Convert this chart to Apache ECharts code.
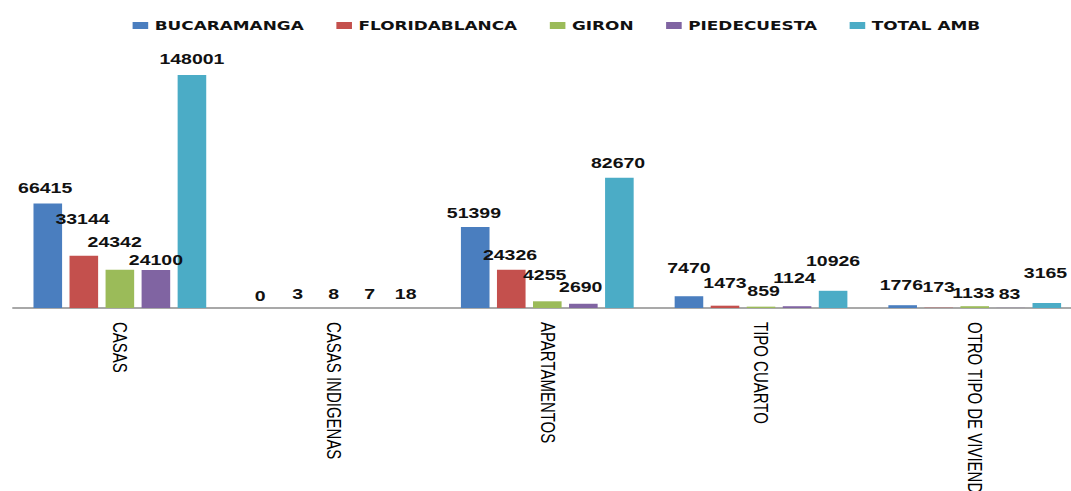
<!DOCTYPE html>
<html>
<head>
<meta charset="utf-8">
<script src="https://cdn.jsdelivr.net/npm/echarts@6/dist/echarts.min.js"></script>
<style>
  html, body { margin: 0; padding: 0; background: #ffffff; overflow: hidden; }
  #wrap { width: 1071px; height: 491px; overflow: hidden; }
  /* chart is laid out narrow and widened horizontally */
  #chart { width: 840px; height: 491px; transform: scaleX(1.3); transform-origin: 0 0; }
</style>
</head>
<body>
<div id="wrap"><div id="chart"></div></div>
<script>
// Tipos de vivienda por municipio del Área Metropolitana de Bucaramanga
const categories = ['CASAS', 'CASAS INDIGENAS', 'APARTAMENTOS', 'TIPO CUARTO', 'OTRO TIPO DE VIVIENDA'];
const seriesNames = ['BUCARAMANGA', 'FLORIDABLANCA', 'GIRON', 'PIEDECUESTA', 'TOTAL AMB'];

const bucaramanga   = [66415, 0, 51399, 7470, 1776];
const floridablanca = [33144, 3, 24326, 1473, 173];
const giron         = [24342, 8, 4255, 859, 1133];
const piedecuesta   = [24100, 7, 2690, 1124, 83];
const totalAmb      = [148001, 18, 82670, 10926, 3165];

const seriesValues = [bucaramanga, floridablanca, giron, piedecuesta, totalAmb];
const colors = ['#4a7ebf', '#c4504d', '#9bbb59', '#8064a2', '#4bacc6'];

// value-label nudges [dx, dy] so overlapping labels stay readable
const labelNudge = [
  [[-2, -3], [-1, 0], [-1, -2], [0, -16], [-1, -8]],
  [[-1, -24], [0, -2], [-1, -2], [0, -10], [0, -8]],
  [[-4, -15], [0, -2], [-2, -14], [2, -3], [-1, -1]],
  [[0, 2], [0, -2], [-2, -4], [-2, -16], [-1, -2]],
  [[0, -4], [0, -2], [-1, -2], [0, -17], [-1, -18]]
];

const chart = echarts.init(document.getElementById('chart'), null, { renderer: 'svg' });

const series = seriesNames.map((name, s) => ({
  name: name,
  type: 'bar',
  barWidth: 22,
  barGap: '26%',
  itemStyle: { color: colors[s] },
  label: {
    show: true,
    position: 'top',
    distance: 5,
    color: '#111',
    fontFamily: 'Liberation Sans, Arial, sans-serif',
    fontWeight: 'bold',
    fontSize: 15
  },
  data: seriesValues[s].map((v, i) => ({
    value: v,
    label: { offset: labelNudge[s][i] }
  }))
}));

chart.setOption({
  animation: false,
  backgroundColor: '#ffffff',
  color: colors,
  legend: {
    data: seriesNames,
    left: 97,
    top: 14,
    itemWidth: 12,
    itemHeight: 7,
    itemGap: 25,
    icon: 'rect',
    textStyle: {
      color: '#111',
      fontFamily: 'DejaVu Sans, Verdana, sans-serif',
      fontWeight: 'bold',
      fontSize: 13
    }
  },
  grid: {
    left: 10, top: 56, width: 822, bottom: 183,
    containLabel: false,
    outerBoundsMode: 'none'
  },
  xAxis: {
    type: 'category',
    data: categories,
    axisLine: { show: true, lineStyle: { color: '#8c8c8c', width: 1.5 } },
    axisTick: { show: false },
    axisLabel: {
      interval: 0,
      rotate: -90,
      margin: 14,
      color: '#000',
      fontFamily: 'Liberation Sans, Arial, sans-serif',
      fontSize: 15
    }
  },
  yAxis: {
    type: 'value',
    min: 0,
    max: 160000,
    show: false,
    splitLine: { show: false }
  },
  series: series
});
</script>
</body>
</html>
